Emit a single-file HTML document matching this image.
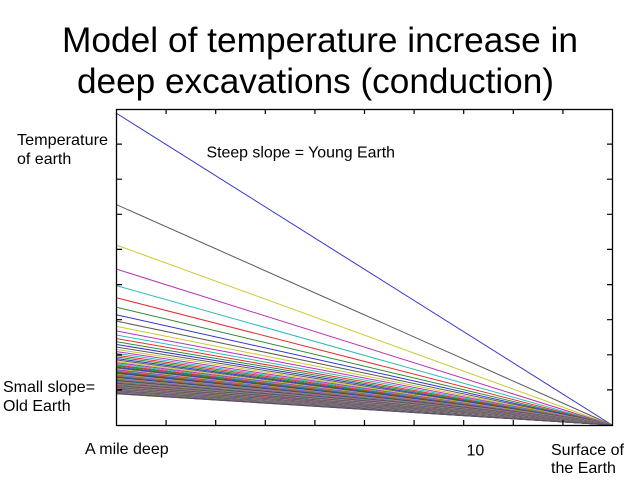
<!DOCTYPE html>
<html>
<head>
<meta charset="utf-8">
<style>
html,body{margin:0;padding:0;background:#fff;}
svg{display:block;}
text{font-family:"Liberation Sans",Arial,sans-serif;fill:#000;}
.b{stroke:#3333cc}.k{stroke:#5a5a5a}.y{stroke:#c8c830}.m{stroke:#b830b8}.c{stroke:#30b8b8}.r{stroke:#e03030}.g{stroke:#308a30}
</style>
</head>
<body>
<svg width="640" height="480" viewBox="0 0 640 480" xmlns="http://www.w3.org/2000/svg">
<rect x="0" y="0" width="640" height="480" fill="#fff"/>
<text x="62" y="52" font-size="35" textLength="516" lengthAdjust="spacingAndGlyphs">Model of temperature increase in</text>
<text x="77" y="93" font-size="35" textLength="477" lengthAdjust="spacingAndGlyphs">deep excavations (conduction)</text>

<g fill="none" stroke-width="1">
<path class="b" d="M116 113L612 425"/>
<path class="k" d="M116 204.4L612 425"/>
<path class="y" d="M116 244.9L612 425"/>
<path class="m" d="M116 269L612 425"/>
<path class="c" d="M116 285.5L612 425"/>
<path class="r" d="M116 297.6L612 425"/>
<path class="g" d="M116 307.1L612 425"/>
<path class="b" d="M116 314.7L612 425"/>
<path class="k" d="M116 321L612 425"/>
<path class="y" d="M116 326.3L612 425"/>
<path class="m" d="M116 330.9L612 425"/>
<path class="c" d="M116 334.9L612 425"/>
<path class="r" d="M116 338.5L612 425"/>
<path class="g" d="M116 341.6L612 425"/>
<path class="b" d="M116 344.4L612 425"/>
<path class="k" d="M116 347L612 425"/>
<path class="y" d="M116 349.3L612 425"/>
<path class="m" d="M116 351.5L612 425"/>
<path class="c" d="M116 353.4L612 425"/>
<path class="r" d="M116 355.2L612 425"/>
<path class="g" d="M116 356.9L612 425"/>
<path class="b" d="M116 358.5L612 425"/>
<path class="k" d="M116 359.9L612 425"/>
<path class="y" d="M116 361.3L612 425"/>
<path class="m" d="M116 362.6L612 425"/>
<path class="c" d="M116 363.8L612 425"/>
<path class="r" d="M116 365L612 425"/>
<path class="g" d="M116 366L612 425"/>
<path class="b" d="M116 367.1L612 425"/>
<path class="k" d="M116 368L612 425"/>
<path class="y" d="M116 369L612 425"/>
<path class="m" d="M116 369.8L612 425"/>
<path class="c" d="M116 370.7L612 425"/>
<path class="r" d="M116 371.5L612 425"/>
<path class="g" d="M116 372.3L612 425"/>
<path class="b" d="M116 373L612 425"/>
<path class="k" d="M116 373.7L612 425"/>
<path class="y" d="M116 374.4L612 425"/>
<path class="m" d="M116 375L612 425"/>
<path class="c" d="M116 375.7L612 425"/>
<path class="r" d="M116 376.3L612 425"/>
<path class="g" d="M116 376.9L612 425"/>
<path class="b" d="M116 377.4L612 425"/>
<path class="k" d="M116 378L612 425"/>
<path class="y" d="M116 378.5L612 425"/>
<path class="m" d="M116 379L612 425"/>
<path class="c" d="M116 379.5L612 425"/>
<path class="r" d="M116 380L612 425"/>
<path class="g" d="M116 380.4L612 425"/>
<path class="b" d="M116 380.9L612 425"/>
<path class="k" d="M116 381.3L612 425"/>
<path class="y" d="M116 381.7L612 425"/>
<path class="m" d="M116 382.1L612 425"/>
<path class="c" d="M116 382.5L612 425"/>
<path class="r" d="M116 382.9L612 425"/>
<path class="g" d="M116 383.3L612 425"/>
<path class="b" d="M116 383.7L612 425"/>
<path class="k" d="M116 384L612 425"/>
<path class="y" d="M116 384.4L612 425"/>
<path class="m" d="M116 384.7L612 425"/>
<path class="c" d="M116 385.1L612 425"/>
<path class="r" d="M116 385.4L612 425"/>
<path class="g" d="M116 385.7L612 425"/>
<path class="b" d="M116 386L612 425"/>
<path class="k" d="M116 386.3L612 425"/>
<path class="y" d="M116 386.6L612 425"/>
<path class="m" d="M116 386.9L612 425"/>
<path class="c" d="M116 387.2L612 425"/>
<path class="r" d="M116 387.4L612 425"/>
<path class="g" d="M116 387.7L612 425"/>
<path class="b" d="M116 388L612 425"/>
<path class="k" d="M116 388.2L612 425"/>
<path class="y" d="M116 388.5L612 425"/>
<path class="m" d="M116 388.7L612 425"/>
<path class="c" d="M116 389L612 425"/>
<path class="r" d="M116 389.2L612 425"/>
<path class="g" d="M116 389.4L612 425"/>
<path class="b" d="M116 389.7L612 425"/>
<path class="k" d="M116 389.9L612 425"/>
<path class="y" d="M116 390.1L612 425"/>
<path class="m" d="M116 390.3L612 425"/>
<path class="c" d="M116 390.5L612 425"/>
<path class="r" d="M116 390.8L612 425"/>
<path class="g" d="M116 391L612 425"/>
<path class="b" d="M116 391.2L612 425"/>
<path class="k" d="M116 391.4L612 425"/>
<path class="y" d="M116 391.6L612 425"/>
<path class="m" d="M116 391.7L612 425"/>
<path class="c" d="M116 391.9L612 425"/>
<path class="r" d="M116 392.1L612 425"/>
<path class="g" d="M116 392.3L612 425"/>
<path class="b" d="M116 392.5L612 425"/>
<path class="k" d="M116 392.6L612 425"/>
<path class="y" d="M116 392.8L612 425"/>
<path class="m" d="M116 393L612 425"/>
<path class="c" d="M116 393.2L612 425"/>
<path class="r" d="M116 393.3L612 425"/>
<path class="g" d="M116 393.5L612 425"/>
<path class="b" d="M116 393.6L612 425"/>
<path class="k" d="M116 393.8L612 425"/>
</g>

<rect x="116.5" y="109.5" width="496" height="316" fill="none" stroke="#000" stroke-width="1.3"/>
<g stroke="#000" stroke-width="1.2">
<path d="M166.1 425V420M215.7 425V420M265.3 425V420M314.9 425V420M364.5 425V420M414.1 425V420M463.7 425V420M513.3 425V420M562.9 425V420"/>
<path d="M166.1 109V114M215.7 109V114M265.3 109V114M314.9 109V114M364.5 109V114M414.1 109V114M463.7 109V114M513.3 109V114M562.9 109V114"/>
<path d="M116 144.1H122M116 179.2H122M116 214.3H122M116 249.4H122M116 284.6H122M116 319.7H122M116 354.8H122M116 389.9H122"/>
<path d="M612 144.1H607M612 179.2H607M612 214.3H607M612 249.4H607M612 284.6H607M612 319.7H607M612 354.8H607M612 389.9H607"/>
</g>

<text x="17" y="145" font-size="16" textLength="91" lengthAdjust="spacingAndGlyphs">Temperature</text>
<text x="17" y="164" font-size="16">of earth</text>
<text x="206.5" y="157.5" font-size="16" textLength="188.5" lengthAdjust="spacingAndGlyphs">Steep slope = Young Earth</text>
<text x="3" y="392" font-size="16">Small slope=</text>
<text x="3" y="411" font-size="16">Old Earth</text>
<text x="85" y="454" font-size="16">A mile deep</text>
<text x="466.5" y="455.5" font-size="16">10</text>
<text x="551" y="455" font-size="16">Surface of</text>
<text x="551" y="473" font-size="16">the Earth</text>
</svg>
</body>
</html>
